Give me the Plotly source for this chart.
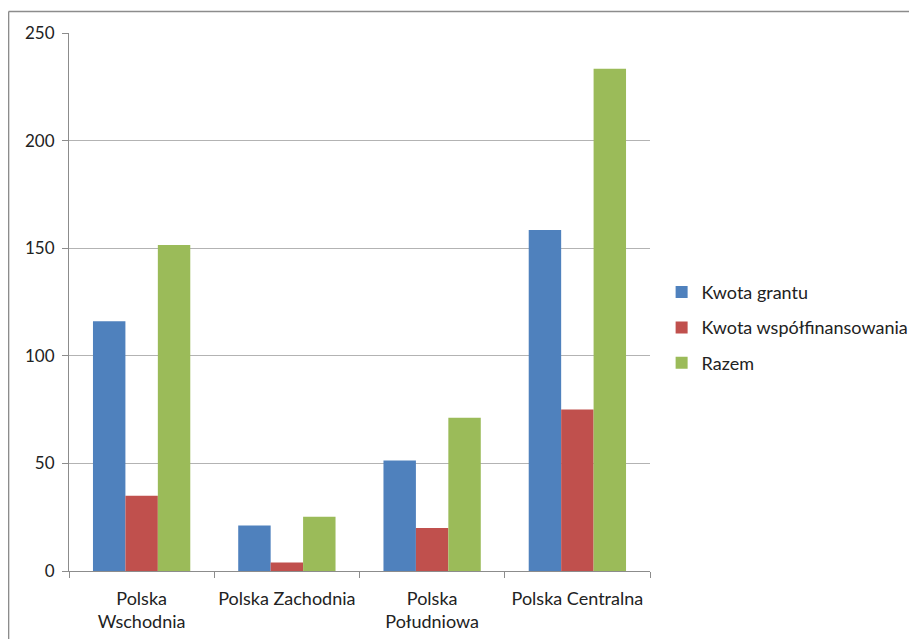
import plotly.graph_objects as go

categories = ["Polska<br>Wschodnia", "Polska Zachodnia", "Polska<br>Południowa", "Polska Centralna"]
kwota_grantu = [116, 21.1, 51.3, 158.4]
kwota_wspolfin = [35, 4, 20, 75]
razem = [151.5, 25.2, 71.2, 233.4]
series_names = ["Kwota grantu", "Kwota współfinansowania", "Razem"]
colors = ["#4F81BD", "#C0504D", "#9BBB59"]
y_ticks = [0, 50, 100, 150, 200, 250]

FONT = "Lato, Carlito, Calibri, sans-serif"

fig = go.Figure()
for i, (name, vals) in enumerate(zip(series_names, [kwota_grantu, kwota_wspolfin, razem])):
    fig.add_trace(go.Bar(x=categories, y=vals, name=name, marker=dict(color=colors[i], line=dict(width=0)),
                         legendgroup=f"g{i}"))

fig.update_layout(
    width=917, height=639,
    margin=dict(l=61, r=275, t=25, b=75.5, autoexpand=False),
    plot_bgcolor="white", paper_bgcolor="white",
    barmode="group", bargap=0.33, bargroupgap=0,
    font=dict(family=FONT, size=18, color="#222222"),
    legend=dict(x=1.02, xanchor="left", y=0.452, yanchor="middle", tracegroupgap=9,
                font=dict(family=FONT, size=18, color="#222222"), bgcolor="rgba(0,0,0,0)"),
    showlegend=True,
)
fig.update_yaxes(range=[0, 250], tickvals=y_ticks, showgrid=True, gridcolor="#B3B3B3", gridwidth=1,
                 showline=True, linecolor="#8C8C8C", linewidth=1, ticks="outside", ticklen=6,
                 tickcolor="#8C8C8C", zeroline=False, ticklabelstandoff=4, automargin=False,
                 tickfont=dict(family=FONT, size=17, color="#222222"))
fig.update_xaxes(showline=True, linecolor="#8C8C8C", linewidth=1, ticks="outside", ticklen=6,
                 tickcolor="#8C8C8C", tickson="boundaries", showgrid=False, ticklabelstandoff=11,
                 tickangle=0, automargin=False,
                 tickfont=dict(family=FONT, size=18, color="#222222"))

# outer chart border (left and top edges visible)
fig.add_shape(type="line", xref="paper", yref="paper", x0=-0.104, x1=1.6, y0=1.04, y1=1.04,
              line=dict(color="#8C8C8C", width=1.5))
fig.add_shape(type="line", xref="paper", yref="paper", x0=-0.104, x1=-0.104, y0=1.04, y1=-0.3,
              line=dict(color="#8C8C8C", width=1.5))

fig.write_html("out.html")
